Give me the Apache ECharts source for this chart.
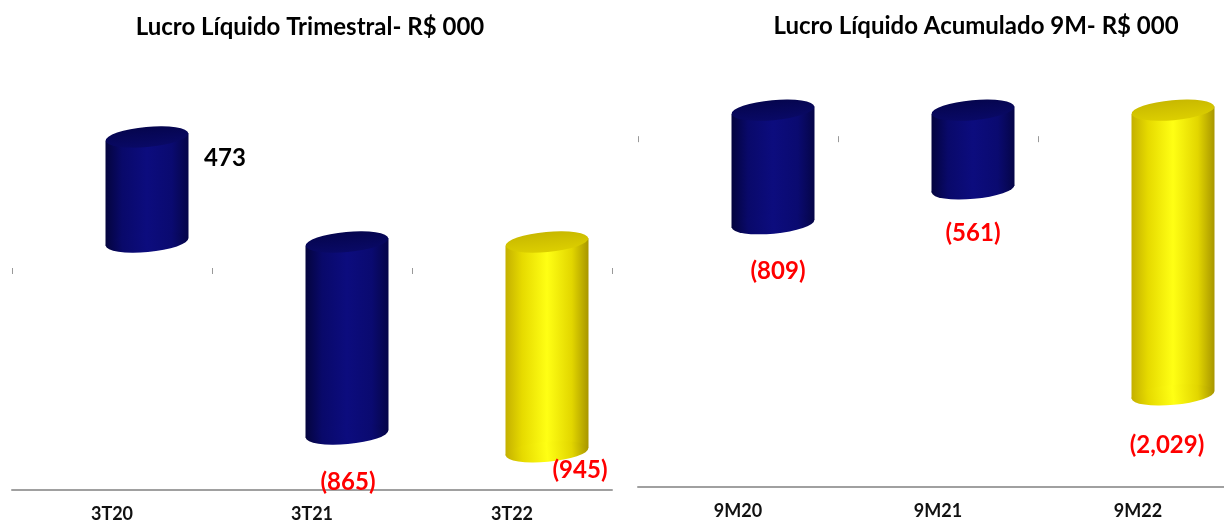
<!DOCTYPE html>
<html lang="pt">
<head>
<meta charset="UTF-8">
<title>Lucro Líquido</title>
<style>
  html, body {margin:0; padding:0; background:#fff}
  #chart {width:1224px; height:522px}
</style>
<script src="https://cdn.jsdelivr.net/npm/echarts@6/dist/echarts.min.js"></script>
</head>
<body>
<div id="chart"></div>
<script>
// data
const quarters = ['3T20', '3T21', '3T22']
const quarterValues = [473, -865, -945]
const periods = ['9M20', '9M21', '9M22']
const periodValues = [-809, -561, -2029]
const leftTitle = 'Lucro Líquido Trimestral- R$ 000'
const rightTitle = 'Lucro Líquido Acumulado 9M- R$ 000'

// styling
const FONT = 'Lato, "Open Sans", sans-serif'
const DEPTH = [35, -26]            // 3d shift of the cylinders from the axis plane
const TILT = 0.09
const barColors = ['blue', 'blue', 'yellow']
const leftLabelShift = [[113, -5], [36, 22], [68, -8]]
const rightLabelShift = [[40, 22], [35, 18], [29, 24]]

const looks = {
    blue: {
        body: ['#04043e', '#09096a', '#0c0c7e', '#0a0a70', '#050548'],
        top: ['#05054e', '#090966']
    },
    yellow: {
        body: ['#c4b000', '#e6da00', '#ffff14', '#e2d600', '#a89600'],
        top: ['#c8b800', '#dccf00']
    }
}

function fmt(v) {
    let s = Math.abs(v).toLocaleString('en-US')
    return v < 0 ? '(' + s + ')' : s
}

function cylinder(shift) {
    return function (params, api) {
        let i = api.value(0), v = api.value(1)
        let base = api.coord([i, 0])
        let end = api.coord([i, v])
        let a = api.size([1, 0])[0] * 0.415 / 2
        let b = 10
        let cx = base[0] + DEPTH[0]
        let y0 = base[1] + DEPTH[1], y1 = end[1] + DEPTH[1]
        let yTop = Math.min(y0, y1), yBot = Math.max(y0, y1)
        let t = Math.sin(TILT) * a
        let look = looks[barColors[params.dataIndex]]
        let stops = look.body.map((c, k) => ({ offset: [0, 0.2, 0.5, 0.8, 1][k], color: c }))
        let bodyFill = new echarts.graphic.LinearGradient(0, 0, 1, 0, stops)
        let topFill = new echarts.graphic.LinearGradient(0, 0, 0, 1, [
            { offset: 0, color: look.top[0] }, { offset: 1, color: look.top[1] }
        ])
        let sh = shift[params.dataIndex]
        return {
            type: 'group',
            children: [
                {
                    type: 'polygon',
                    shape: { points: [[cx - a, yTop + t], [cx + a, yTop - t], [cx + a, yBot - t], [cx - a, yBot + t]] },
                    style: { fill: bodyFill }
                },
                {
                    type: 'circle', shape: { cx: 0, cy: 0, r: a },
                    x: cx, y: yBot, scaleY: b / a, rotation: TILT,
                    style: { fill: bodyFill }
                },
                {
                    type: 'circle', shape: { cx: 0, cy: 0, r: a },
                    x: cx, y: yTop, scaleY: b / a, rotation: TILT,
                    style: { fill: topFill }
                },
                {
                    type: 'text',
                    x: base[0] + sh[0], y: end[1] + sh[1],
                    style: {
                        text: fmt(v), fill: v < 0 ? '#ff0000' : '#000',
                        font: 'bold 24px ' + FONT, align: 'center', verticalAlign: 'middle'
                    }
                }
            ]
        }
    }
}

let chart = echarts.init(document.getElementById('chart'))

let catAxis = (grid, cats) => ({
    type: 'category', gridIndex: grid, data: cats, position: 'bottom',
    axisLine: { onZero: false, lineStyle: { color: '#a0a0a0', width: 2 } },
    axisTick: { show: false },
    axisLabel: { color: '#111', fontFamily: FONT, fontWeight: 'bold', fontSize: 18, margin: 15 }
})
let zeroAxis = (grid, cats) => ({
    type: 'category', gridIndex: grid, data: cats, position: 'top',
    axisLine: { show: false, onZero: true },
    axisTick: { show: true, inside: true, length: 6, lineStyle: { color: '#999' } },
    axisLabel: { show: false }
})

let titleStyle = { fontFamily: FONT, fontWeight: 'bold', fontSize: 24, color: '#000' }

let option = {
    animation: false,
    title: [
        { text: leftTitle, left: 310, top: 15, textAlign: 'center', padding: 0, textStyle: titleStyle },
        { text: rightTitle, left: 976, top: 14, textAlign: 'center', padding: 0, textStyle: titleStyle }
    ],
    grid: [
        { left: 12, top: 46, width: 600, height: 444, outerBoundsMode: 'none' },
        { left: 638, top: 66, width: 600, height: 421, outerBoundsMode: 'none' }
    ],
    xAxis: [catAxis(0, quarters), zeroAxis(0, quarters), catAxis(1, periods), zeroAxis(1, periods)],
    yAxis: [
        { type: 'value', gridIndex: 0, min: -1000, max: 1000, show: false },
        { type: 'value', gridIndex: 1, min: -2500, max: 500, show: false }
    ],
    series: [
        {
            type: 'custom', xAxisIndex: 0, yAxisIndex: 0,
            renderItem: cylinder(leftLabelShift),
            data: quarterValues.map((v, i) => [i, v])
        },
        {
            type: 'custom', xAxisIndex: 2, yAxisIndex: 1,
            renderItem: cylinder(rightLabelShift),
            data: periodValues.map((v, i) => [i, v])
        }
    ]
}

chart.setOption(option)
</script>
</body>
</html>
